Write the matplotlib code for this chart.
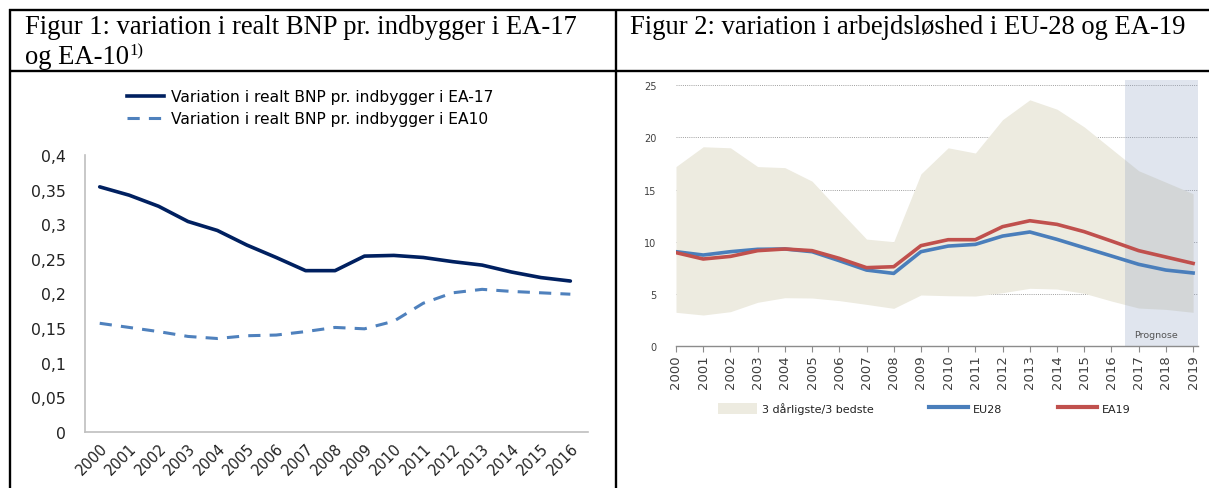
import matplotlib
matplotlib.use("Agg")
import matplotlib.pyplot as plt
from matplotlib.lines import Line2D
from matplotlib.patches import Patch
import numpy as np

# ---------------- data ----------------
years1 = [str(y) for y in range(2000, 2017)]
ea17 = [0.354, 0.342, 0.326, 0.304, 0.291, 0.270, 0.252, 0.233, 0.233, 0.254,
        0.255, 0.252, 0.246, 0.241, 0.231, 0.223, 0.218]
ea10 = [0.157, 0.151, 0.145, 0.138, 0.135, 0.139, 0.140, 0.145, 0.151, 0.149,
        0.160, 0.186, 0.201, 0.206, 0.203, 0.201, 0.199]
yticks1 = [0, 0.05, 0.1, 0.15, 0.2, 0.25, 0.3, 0.35, 0.4]
ylabels1 = ["0", "0,05", "0,1", "0,15", "0,2", "0,25", "0,3", "0,35", "0,4"]

years2 = list(range(2000, 2020))
band_upper = [17.2, 19.1, 19.0, 17.2, 17.1, 15.8, 13.0, 10.25, 10.0, 16.5,
              19.0, 18.5, 21.7, 23.6, 22.7, 21.0, 18.9, 16.8, 15.7, 14.6]
band_lower = [3.23, 2.97, 3.29, 4.19, 4.63, 4.60, 4.35, 3.99, 3.61, 4.89,
              4.82, 4.79, 5.11, 5.53, 5.46, 5.05, 4.31, 3.64, 3.51, 3.23]
eu28 = [9.04, 8.72, 9.04, 9.27, 9.30, 9.04, 8.18, 7.28, 6.96, 9.04,
        9.58, 9.74, 10.54, 10.93, 10.22, 9.42, 8.63, 7.83, 7.28, 7.00]
ea19 = [8.95, 8.34, 8.59, 9.14, 9.30, 9.14, 8.40, 7.51, 7.60, 9.62,
        10.19, 10.19, 11.44, 12.01, 11.66, 10.96, 10.06, 9.14, 8.53, 7.92]
yticks2 = [0, 5, 10, 15, 20, 25]
forecast_start = 2016.5

W, H = 1209, 489
fig = plt.figure(figsize=(W / 100, H / 100), dpi=100)

def fx(px):
    return px / W

def fy(py):
    return 1 - py / H

# ---------------- table frame ----------------
frame_kw = dict(color="black", lw=1.7, transform=fig.transFigure, solid_capstyle="butt")
fig.add_artist(Line2D([fx(10), fx(10)], [fy(10), 0], **frame_kw))
fig.add_artist(Line2D([fx(616), fx(616)], [fy(10), 0], **frame_kw))
fig.add_artist(Line2D([fx(9), 1], [fy(11), fy(11)], **frame_kw))
fig.add_artist(Line2D([fx(9), 1], [fy(72), fy(72)], **frame_kw))

serif = ["Liberation Serif", "DejaVu Serif"]
fig.text(fx(25), fy(28), "Figur 1: variation i realt BNP pr. indbygger i EA-17",
         family=serif, fontsize=19.2, va="center", ha="left")
fig.text(fx(25), fy(57), "og EA-10", family=serif, fontsize=19.2, va="center", ha="left")
fig.text(fx(129), fy(51), "1)", family=serif, fontsize=12, va="center", ha="left")
fig.text(fx(630), fy(28), "Figur 2: variation i arbejdsløshed i EU-28 og EA-19",
         family=serif, fontsize=19.2, va="center", ha="left")

# ---------------- left chart ----------------
ax1 = fig.add_axes([fx(85), fy(433), fx(588 - 85), (433 - 156) / H])
x1 = np.arange(len(years1))
c17 = "#002060"
c10 = "#4f81bd"
ax1.plot(x1, ea17, color=c17, lw=2.6, solid_joinstyle="round", solid_capstyle="round")
ax1.plot(x1, ea10, color=c10, lw=2.2, dashes=(4.0, 3.0))
ax1.set_xlim(-0.5, len(years1) - 0.4)
ax1.set_ylim(0, 0.4)
ax1.set_yticks(yticks1)
ax1.set_yticklabels(ylabels1, fontsize=11.3, color="#222222")
ax1.set_xticks(x1)
ax1.set_xticklabels(years1, rotation=45, ha="right", rotation_mode="anchor",
                    fontsize=10.5, color="#222222")
for s in ["top", "right"]:
    ax1.spines[s].set_visible(False)
for s in ["left", "bottom"]:
    ax1.spines[s].set_color("#bfbfbf")
    ax1.spines[s].set_linewidth(1.2)
ax1.tick_params(length=0, pad=14)
ax1.tick_params(axis="x", pad=6)

leg_handles = [Line2D([], [], color=c17, lw=2.6),
               Line2D([], [], color=c10, lw=2.2, dashes=(4.0, 3.0))]
fig.legend(leg_handles,
           ["Variation i realt BNP pr. indbygger i EA-17",
            "Variation i realt BNP pr. indbygger i EA10"],
           loc="upper left", bbox_to_anchor=(fx(127), fy(90)), frameon=False,
           fontsize=11.2, handlelength=2.4, handletextpad=0.4, labelspacing=0.45,
           borderaxespad=0, borderpad=0)

# ---------------- right chart ----------------
ax2 = fig.add_axes([fx(676), fy(347), fx(1198 - 676), (347 - 81) / H])
cband = "#edebe0"
cblue = "#4a7ebb"
cred = "#c0504d"
ax2.set_xlim(2000, 2019.18)
ax2.set_ylim(0, 25.5)
for yv in yticks2[1:]:
    ax2.axhline(yv, color="#a0a0a0", lw=0.7, ls=(0, (1, 1.2)), zorder=0.5)
ax2.fill_between(years2, band_lower, band_upper, color=cband, lw=0, zorder=1)
ax2.axvspan(forecast_start, 2019.18, color=(144/255, 162/255, 194/255), alpha=0.28,
            lw=0, zorder=1.5)
ax2.plot(years2, eu28, color=cblue, lw=2.6, zorder=3)
ax2.plot(years2, ea19, color=cred, lw=2.6, zorder=4)
ax2.text(2017.65, 1.1, "Prognose", fontsize=6.8, color="#555555", ha="center", va="center")
ax2.set_yticks(yticks2)
ax2.set_yticklabels([str(v) for v in yticks2], fontsize=7, color="#404040")
ax2.set_xticks(years2)
ax2.set_xticklabels([str(y) for y in years2], rotation=90, fontsize=9.5, color="#404040")
for s in ["top", "right", "left"]:
    ax2.spines[s].set_visible(False)
ax2.spines["bottom"].set_color("#8c8c8c")
ax2.spines["bottom"].set_linewidth(1.0)
ax2.tick_params(axis="y", length=0, pad=14)
ax2.tick_params(axis="x", length=4, width=0.8, color="#8c8c8c", pad=2)

leg2 = [Patch(facecolor=cband, edgecolor="none"),
        Line2D([], [], color=cblue, lw=3),
        Line2D([], [], color=cred, lw=3)]
fig.legend(leg2, ["3 dårligste/3 bedste", "EU28", "EA19"], loc="center left",
           bbox_to_anchor=(fx(718), fy(409)), ncol=3, frameon=False, fontsize=8,
           handlelength=3.5, handleheight=1.2, handletextpad=0.45, columnspacing=5.0,
           borderaxespad=0, borderpad=0, labelcolor="#222222")

fig.savefig("out.png", dpi=100)
